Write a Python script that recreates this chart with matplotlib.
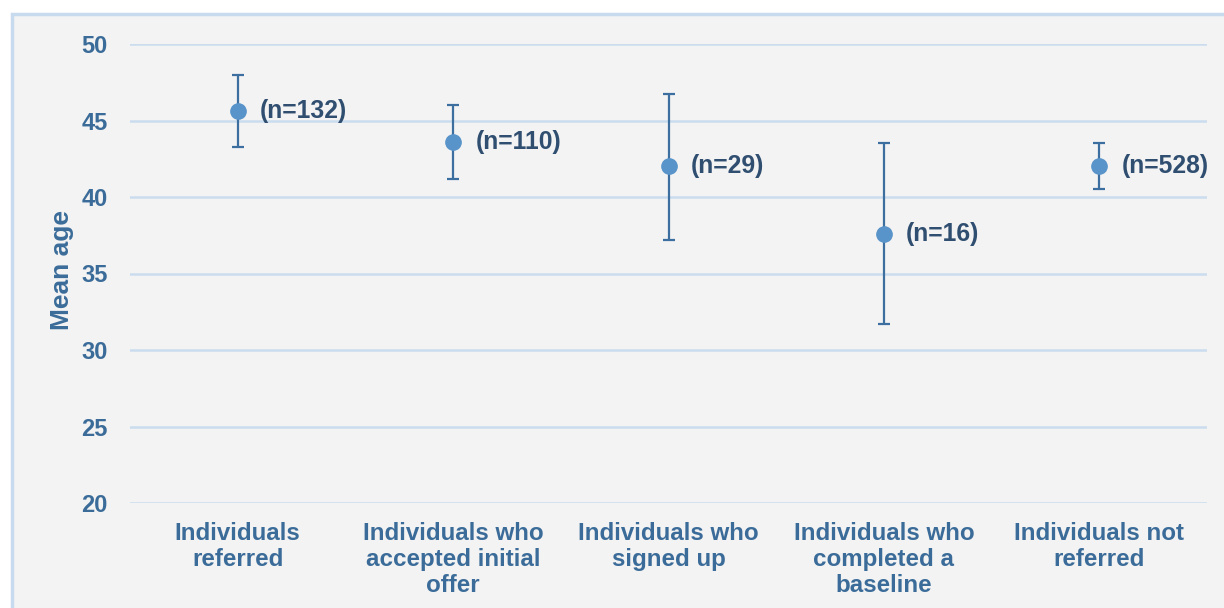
import matplotlib.pyplot as plt
from matplotlib.patches import Rectangle

plt.rcParams['font.family'] = ['Liberation Sans', 'DejaVu Sans']

categories = ["Individuals\nreferred",
              "Individuals who\naccepted initial\noffer",
              "Individuals who\nsigned up",
              "Individuals who\ncompleted a\nbaseline",
              "Individuals not\nreferred"]
mean_age = [45.6, 43.6, 42.0, 37.6, 42.0]
ci_low = [43.3, 41.2, 37.2, 31.7, 40.5]
ci_high = [48.0, 46.0, 46.7, 43.5, 43.5]
n_labels = ["(n=132)", "(n=110)", "(n=29)", "(n=16)", "(n=528)"]

text_blue = '#3b6c99'
bar_blue = '#3c6f9f'
dot_blue = '#5893c9'
grid_blue = '#cadcee'

fig = plt.figure(figsize=(12.24, 6.08), dpi=100)
fig.patch.set_facecolor('white')

# grey panel with light blue border, running off the right/bottom edge
panel = Rectangle((12 / 1224, -0.05), 1.1, 1 - 14 / 608 + 0.05,
                  transform=fig.transFigure, facecolor='#f3f3f3',
                  edgecolor='#c8dbee', linewidth=2.5, zorder=-10)
fig.patches.append(panel)

ax = fig.add_axes([130 / 1224, 1 - 503 / 608, (1207 - 130) / 1224, (503 - 44) / 608])
ax.set_facecolor('none')
ax.set_zorder(1)

x = list(range(len(categories)))
yerr = [[m - lo for m, lo in zip(mean_age, ci_low)],
        [hi - m for m, hi in zip(mean_age, ci_high)]]

ax.errorbar(x, mean_age, yerr=yerr, fmt='none', ecolor=bar_blue,
            elinewidth=1.6, capsize=4.5, capthick=1.6, zorder=3)
ax.plot(x, mean_age, 'o', color=dot_blue, markersize=11, zorder=4)

for xi, yi, lab in zip(x, mean_age, n_labels):
    ax.annotate(lab, (xi, yi), xytext=(16, 0), textcoords='offset points',
                va='center', ha='left', fontsize=17.8, fontweight='bold',
                color='#2f4e70')

ax.set_xlim(-0.5, len(categories) - 0.5)
ax.set_ylim(20, 50)
ax.set_yticks(range(20, 51, 5))
ax.grid(axis='y', color=grid_blue, linewidth=1.8)
ax.set_axisbelow(True)

ax.set_xticks(x)
ax.set_xticklabels(categories, fontsize=17.4, fontweight='bold',
                   color=text_blue, linespacing=1.15)
for lab in ax.get_yticklabels():
    lab.set_fontsize(17)
    lab.set_fontweight('bold')
    lab.set_color(text_blue)
ax.tick_params(axis='both', length=0)
ax.tick_params(axis='x', pad=14)
ax.tick_params(axis='y', pad=16)

ax.set_ylabel('Mean age', fontsize=19, fontweight='bold', color=text_blue)
ax.yaxis.set_label_coords(-0.052, 0.508)

for s in ax.spines.values():
    s.set_visible(False)

fig.savefig('out.png', dpi=100, facecolor=fig.get_facecolor())
